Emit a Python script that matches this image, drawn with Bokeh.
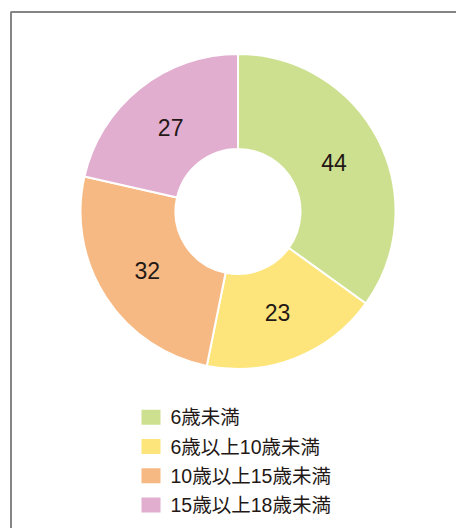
import math
from bokeh.plotting import figure
from bokeh.models import Range1d, BoxAnnotation, ColumnDataSource
from bokeh.core.properties import value
from bokeh.embed import file_html
from bokeh.resources import INLINE

categories = ["6歳未満", "6歳以上10歳未満", "10歳以上15歳未満", "15歳以上18歳未満"]
counts = [44, 23, 32, 27]
colors = ["#cde08f", "#fee57b", "#f7b984", "#e2aed0"]

W, H = 456, 528
p = figure(width=W, height=H, output_backend="svg", toolbar_location=None,
           x_range=Range1d(0, W), y_range=Range1d(0, H), min_border=0)
p.axis.visible = False
p.grid.visible = False
p.outline_line_color = None
p.background_fill_color = "white"
p.border_fill_color = "white"

# frame (top & left visible)
p.add_layout(BoxAnnotation(left=10.5, right=W + 20, top=H - 11.5, bottom=-20,
                           fill_alpha=0, line_color="#858585", line_alpha=1.0, line_width=2))

cx, cy = 237.5, H - 211
r_in, r_out = 62.5, 157.5
total = sum(counts)
starts, ends, lx, ly = [], [], [], []
cum = 0
for c in counts:
    a0 = math.pi / 2 - 2 * math.pi * cum / total
    a1 = math.pi / 2 - 2 * math.pi * (cum + c) / total
    starts.append(a0)
    ends.append(a1)
    mid = (a0 + a1) / 2
    rl = 108
    lx.append(cx + rl * math.cos(mid))
    ly.append(cy + rl * math.sin(mid))
    cum += c

src = ColumnDataSource(dict(cat=categories, n=[str(v) for v in counts], color=colors,
                            s=starts, e=ends, lx=lx, ly=ly,
                            x=[cx] * len(counts), y=[cy] * len(counts)))
p.annular_wedge(x="x", y="y", inner_radius=r_in, outer_radius=r_out,
                start_angle="s", end_angle="e", direction="clock",
                fill_color="color", line_color="white", line_width=2, source=src)
p.text(x="lx", y="ly", text="n", source=src, text_align="center",
       text_baseline="middle", text_font=value("Liberation Sans"),
       text_font_size="23px", text_color="#231815")

# legend
leg_y = [H - (416.7 + i * 29.3) for i in range(len(categories))]
leg = ColumnDataSource(dict(cat=categories, color=colors, y=leg_y,
                            sx=[150.5] * len(categories), tx=[170] * len(categories)))
p.rect(x="sx", y="y", width=19, height=15, fill_color="color", line_color=None, source=leg)
p.text(x="tx", y="y", text="cat", source=leg, text_align="left", text_baseline="middle",
       text_font=value("'Liberation Sans', 'Noto Sans CJK JP'"), text_font_size="19.5px",
       text_color="#231815")

open("out.html", "w").write(file_html(p, INLINE))
